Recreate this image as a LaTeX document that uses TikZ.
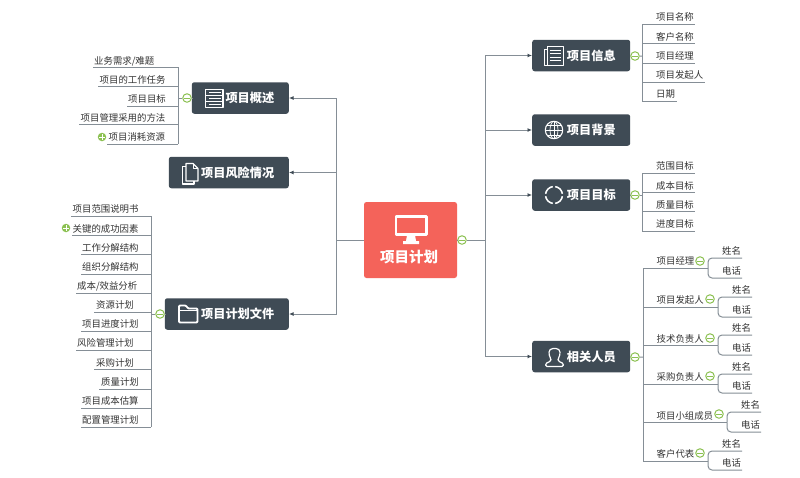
\documentclass[tikz,border=0pt]{standalone}
\usepackage{fontspec}
\setmainfont{Noto Sans CJK SC}
\usetikzlibrary{arrows.meta,calc}
\definecolor{boxc}{HTML}{3F4B55}
\definecolor{linec}{HTML}{858E96}
\definecolor{redc}{HTML}{F4635A}
\definecolor{btnc}{HTML}{8CC152}
\definecolor{txtc}{HTML}{333333}
\tikzset{
  x=1pt,y=-1pt,
  conn/.style={draw=linec,line width=1pt},
  arr/.style={conn,-{Latex[length=4.5pt,width=4pt,color=boxc,fill=boxc]}},
  sub/.style={conn,rounded corners=4pt},
  leaf/.style={anchor=base west,inner sep=0pt,text=txtc,font=\fontsize{9.4}{10}\selectfont},
  topic/.style={fill=boxc,rounded corners=2.5pt,text=white,font=\fontsize{12.2}{13}\bfseries\selectfont,align=right,inner xsep=14.5pt,inner ysep=0pt,minimum height=31.5pt},
  root/.style={fill=redc,rounded corners=2.5pt,minimum width=93pt,minimum height=76pt,inner sep=0pt},
  roottext/.style={text=white,inner sep=0pt,font=\fontsize{14.5}{15}\bfseries\selectfont},
  minusbtn/.style={circle,draw=btnc,fill=white,line width=1pt,minimum size=8.5pt,inner sep=0pt,
    path picture={\draw[btnc,line width=1pt] ([xshift=1.5pt]path picture bounding box.west) -- ([xshift=-1.5pt]path picture bounding box.east);}},
  plusbtn/.style={circle,fill=btnc,minimum size=8.5pt,inner sep=0pt,
    path picture={\draw[white,line width=0.9pt] ([xshift=1.5pt]path picture bounding box.west) -- ([xshift=-1.5pt]path picture bounding box.east) ([yshift=-1.5pt]path picture bounding box.north) -- ([yshift=1.5pt]path picture bounding box.south);}},
  icon/.style={draw=white,line width=1.1pt,line join=round},
}
\begin{document}
\begin{tikzpicture}
\useasboundingbox (0,0) rectangle (800,477);
\fill[white] (0,0) rectangle (800,477);

% root
\node[root] (root) at (410.5,240) {};
\node[roottext] (roottxt) at (409,257) {项目计划};
\draw[white,line width=2.6pt,line join=round] (396,216.5) rectangle (426.5,234.5);
\fill[white] (407,235) -- (415,235) -- (416,241) -- (419,241) -- (419,244) -- (403,244) -- (403,241) -- (406,241) -- cycle;

% topics
\node[topic,anchor=east,text width=68pt] (gaishu) at (289,98) {项目概述};
\node[topic,anchor=east,text width=91pt] (fengxian) at (289,172.5) {项目风险情况};
\node[topic,anchor=east,text width=95pt] (wenjian) at (289,314) {项目计划文件};
\node[topic,anchor=west,text width=69pt] (xinxi) at (532,55.5) {项目信息};
\node[topic,anchor=west,text width=69pt] (beijing) at (532,130) {项目背景};
\node[topic,anchor=west,text width=69pt] (mubiao) at (532,195) {项目目标};
\node[topic,anchor=west,text width=69pt] (renyuan) at (532,356.5) {相关人员};

% main connectors
\node[minusbtn] (rootbtn) at (462,240) {};
\coordinate (jl) at (336,240);
\coordinate (jr) at (485,240);
\draw[conn] (root.west) -- (jl);
\draw[conn] (root.east) -- (rootbtn) -- (jr);
\draw[arr] (jl) |- (gaishu.east);
\draw[arr] (jl) |- (fengxian.east);
\draw[arr] (jl) |- (wenjian.east);
\draw[arr] (jr) |- (xinxi.west);
\draw[arr] (jr) |- (beijing.west);
\draw[arr] (jr) |- (mubiao.west);
\draw[arr] (jr) |- (renyuan.west);

% left leaves: project overview
\foreach \n/\tx/\ly/\xa/\txt in {
  1/94/67.3/93/{业务需求/难题},
  2/99.5/86.3/98/项目的工作任务,
  3/128/106/127/项目目标,
  4/80.5/124.7/79/项目管理采用的方法,
  5/108.5/144/107/项目消耗资源}{
  \node[leaf] (A\n) at (\tx,\ly-3.2) {\txt};
  \coordinate (Aa\n) at (\xa,\ly);
  \coordinate (Ab\n) at (178,\ly);
  \draw[conn] (Aa\n) -- (Ab\n);
}
\draw[conn] (Ab1) -- (Ab5);
\node[minusbtn] (Abtn) at (187,98) {};
\coordinate (Aj) at (178,98);
\draw[conn] (gaishu.west) -- (Abtn) -- (Aj);
\node[plusbtn] (Aplus) at (102,137) {};

% left leaves: plan files
\foreach \n/\tx/\ly/\xa/\txt in {
  1/72.5/216/71/项目范围说明书,
  2/72.5/235.5/72/关键的成功因素,
  3/82/254.5/81/工作分解结构,
  4/82/274/81/组织分解结构,
  5/77/293/76/{成本/效益分析},
  6/96/312/94/资源计划,
  7/82/331/81/项目进度计划,
  8/77/350/76/风险管理计划,
  9/96/369.5/94/采购计划,
  10/101/389/99/质量计划,
  11/82/408/81/项目成本估算,
  12/82/427/81/配置管理计划}{
  \node[leaf] (B\n) at (\tx,\ly-3.2) {\txt};
  \coordinate (Ba\n) at (\xa,\ly);
  \coordinate (Bb\n) at (151,\ly);
  \draw[conn] (Ba\n) -- (Bb\n);
}
\draw[conn] (Bb1) -- (Bb12);
\node[minusbtn] (Bbtn) at (160,314) {};
\coordinate (Bj) at (151,314);
\draw[conn] (wenjian.west) -- (Bbtn) -- (Bj);
\node[plusbtn] (Bplus) at (66,228) {};

% right leaves: info
\foreach \n/\ly/\xb/\txt in {
  1/24/695/项目名称,
  2/43.5/695/客户名称,
  3/63/695/项目经理,
  4/82/705/项目发起人,
  5/101/677/日期}{
  \node[leaf] (C\n) at (656,\ly-3.2) {\txt};
  \coordinate (Ca\n) at (642,\ly);
  \coordinate (Cb\n) at (\xb,\ly);
  \draw[conn] (Ca\n) -- (Cb\n);
}
\draw[conn] (Ca1) -- (Ca5);
\node[minusbtn] (Cbtn) at (635,56) {};
\coordinate (Cj) at (642,56);
\draw[conn] (xinxi.east) -- (Cbtn) -- (Cj);

% right leaves: goals
\foreach \n/\ly/\txt in {
  1/173/范围目标,
  2/192.5/成本目标,
  3/211.5/质量目标,
  4/231/进度目标}{
  \node[leaf] (D\n) at (656,\ly-3.2) {\txt};
  \coordinate (Da\n) at (642,\ly);
  \coordinate (Db\n) at (695,\ly);
  \draw[conn] (Da\n) -- (Db\n);
}
\draw[conn] (Da1) -- (Da4);
\node[minusbtn] (Dbtn) at (635,195) {};
\coordinate (Dj) at (642,195);
\draw[conn] (mubiao.east) -- (Dbtn) -- (Dj);

% right leaves: people
\foreach \n/\ly/\sx/\rx/\st/\bx/\by/\top/\bot/\txt in {
  1/268/708/742/722/700/261/258/278/项目经理,
  2/307/718/752/732/710/299/297/317/项目发起人,
  3/345.5/718/752/732/710/338/335/355/技术负责人,
  4/384/718/752/732/710/376/374/393/采购负责人,
  5/422.5/727/761/741/719/414/412/432/项目小组成员,
  6/461/708/742/722/700/453/451/470/客户代表}{
  \node[leaf] (P\n) at (656.5,\ly-3.2) {\txt};
  \node[minusbtn] (Pbtn\n) at (\bx,\by) {};
  \coordinate (Pa\n) at (643,\ly);
  \coordinate (Pj\n) at (\sx,\ly);
  \coordinate (Pt\n) at (\rx,\top);
  \coordinate (Pd\n) at (\rx,\bot);
  \draw[conn] (Pa\n) -- (Pj\n);
  \draw[sub] (Pj\n) |- (Pt\n);
  \draw[sub] (Pj\n) |- (Pd\n);
  \node[leaf] (Pn\n) at (\st,\top-3.2) {姓名};
  \node[leaf] (Pe\n) at (\st,\bot-3.2) {电话};
}
\draw[conn] (Pa1) -- (Pa6);
\node[minusbtn] (Pbtn) at (635,357) {};
\coordinate (Pj) at (643,357);
\draw[conn] (renyuan.east) -- (Pbtn) -- (Pj);

% icons
% list
\draw[icon] (205.5,89.5) rectangle (223,107.5);
\draw[icon,line width=0.9pt] (205.5,95.5) -- (223,95.5) (205.5,101.5) -- (223,101.5);
\draw[icon,line width=0.9pt] (209,92.5) -- (220.5,92.5) (209,98.5) -- (220.5,98.5) (209,104.5) -- (220.5,104.5);
% documents
\draw[icon] (186,163.5) -- (193,163.5) -- (198,168.5) -- (198,181) -- (186,181) -- cycle;
\draw[icon,line width=0.9pt] (193,163.5) -- (193,168.5) -- (198,168.5);
\draw[icon] (186,166.5) -- (182.5,166.5) -- (182.5,184) -- (194,184) -- (194,181);
% folder
\draw[icon,line width=1.8pt,rounded corners=1pt] (179,322.5) -- (179,305.5) -- (186,305.5) -- (188,308.5) -- (197.5,308.5) -- (197.5,322.5) -- cycle;
\draw[icon,line width=1pt] (179,310.5) -- (197.5,310.5);
% newspaper
\draw[icon] (547.5,46.5) rectangle (563.5,65.5);
\draw[icon,line width=0.9pt] (547.5,49) -- (544.5,49) -- (544.5,65.5) -- (547.5,65.5);
\draw[icon,line width=0.9pt] (550,50) -- (561,50) (550,53.5) -- (561,53.5) (550,57) -- (561,57) (550,60.5) -- (561,60.5);
% globe
\draw[icon] (554,130) circle (8.7);
\draw[icon,line width=0.7pt] (554,130) ellipse (4 and 8.7);
\draw[icon,line width=0.7pt] (554,121.3) -- (554,138.7) (545.3,130) -- (562.7,130);
\draw[icon,line width=0.7pt] (547,125) -- (561,125) (547,135) -- (561,135);
% target
\draw[icon,line width=1.5pt] (554,195) circle (8.5);
\fill[boxc] (552.8,185) rectangle (555.2,188) (552.8,202) rectangle (555.2,205) (544,193.8) rectangle (547,196.2) (561,193.8) rectangle (564,196.2);
% person
\draw[icon,line width=1.2pt,rounded corners=1.5pt] (545.5,366.5) -- (545.5,363.5) -- (551,361) -- (551,358.5) .. controls (548.5,355) and (548,348.5) .. (554.5,348.5) .. controls (561,348.5) and (560.5,355) .. (558,358.5) -- (558,361) -- (563.5,363.5) -- (563.5,366.5) -- cycle;
\end{tikzpicture}
\end{document}
